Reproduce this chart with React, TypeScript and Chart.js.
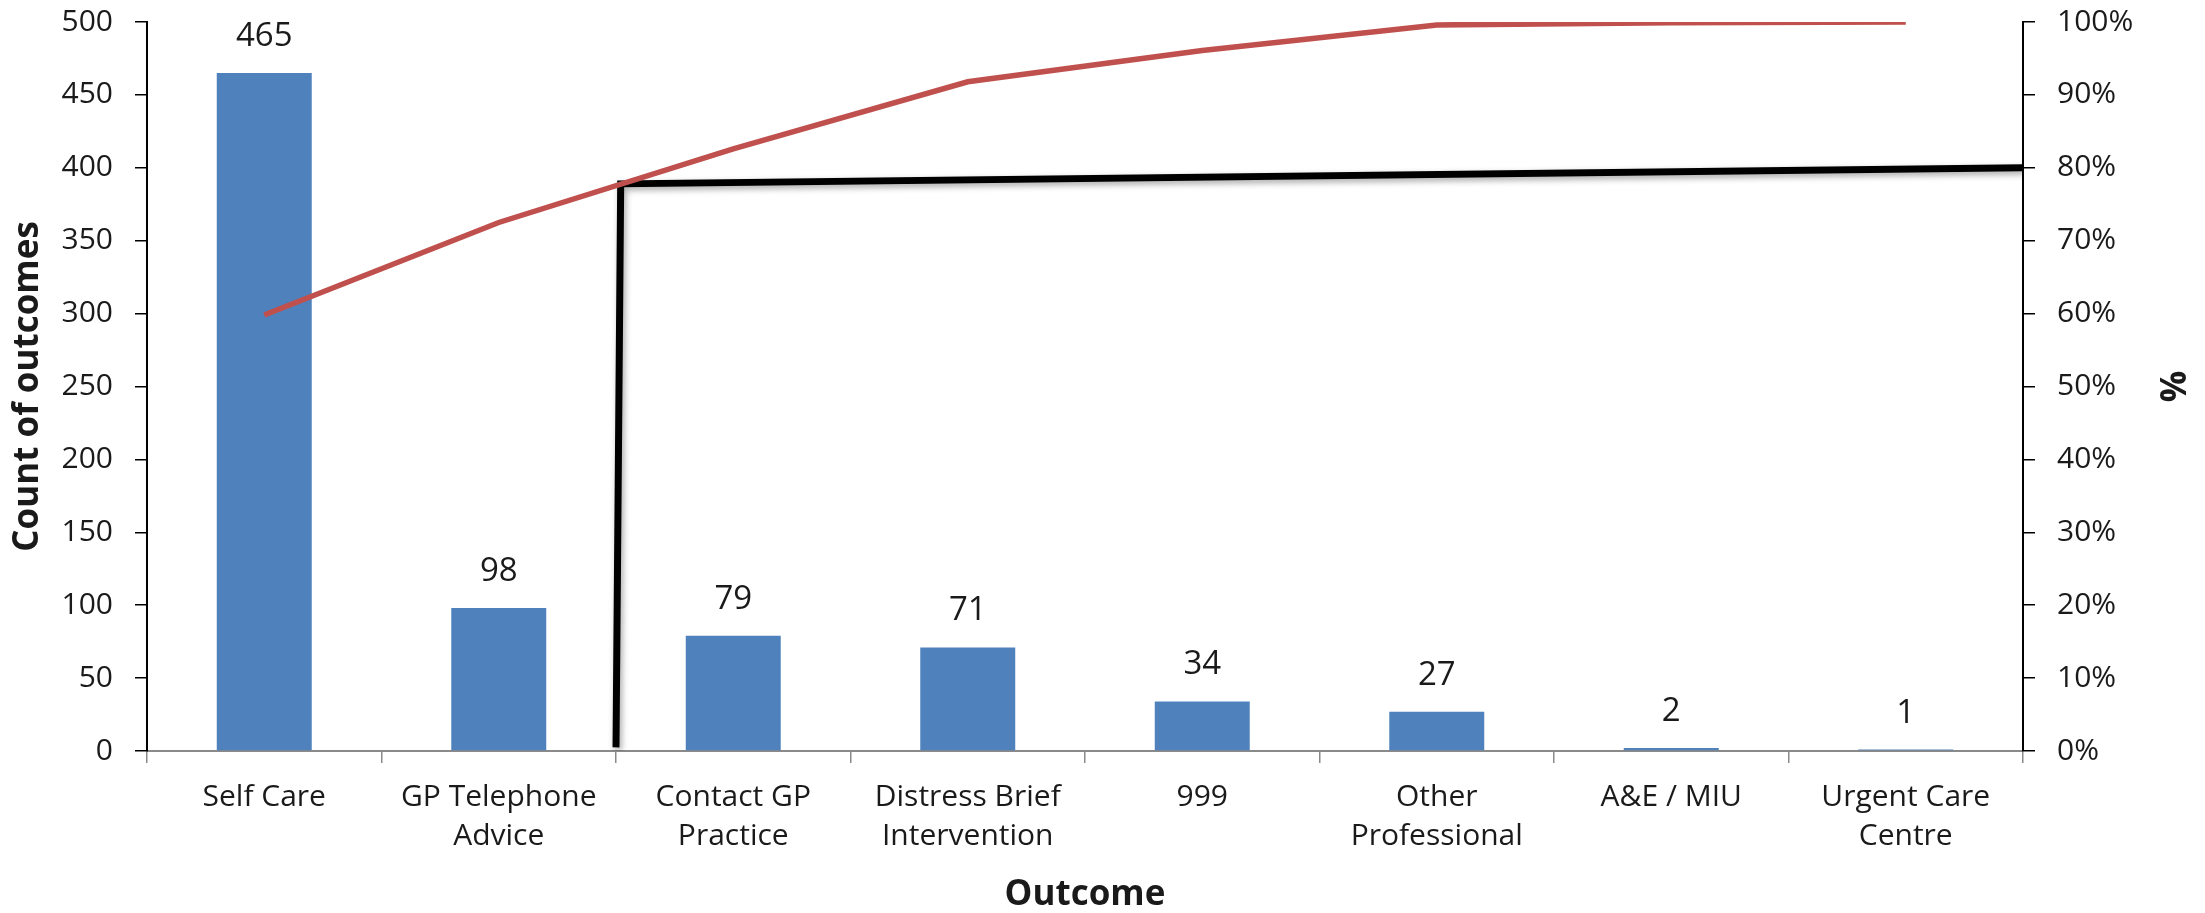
import { useEffect, useRef } from "react";
import { Chart, registerables } from "chart.js";

Chart.register(...registerables);

// Outcome categories (multi-line labels as arrays)
const outcomes: (string | string[])[] = [
  "Self Care",
  ["GP Telephone", "Advice"],
  ["Contact GP", "Practice"],
  ["Distress Brief", "Intervention"],
  "999",
  ["Other", "Professional"],
  "A&E / MIU",
  ["Urgent Care", "Centre"],
];

// Count of each outcome
const counts = [465, 98, 79, 71, 34, 27, 2, 1];

// Cumulative share of all outcomes (%)
const cumulativePct = [59.8, 72.5, 82.6, 91.8, 96.1, 99.6, 99.9, 100];

// Hand-drawn 80% cut-off marker: category position and % value of each vertex
const cutoffX = [1.5, 1.52, 7.5];
const cutoffPct = [0.5, 77.8, 80];

const FONT = "'Open Sans', 'Noto Sans', sans-serif";
const TEXT = "#1a1a1a";

// Value labels above the bars
const barValueLabels = {
  id: "barValueLabels",
  afterDatasetsDraw(chart: any) {
    const meta = chart.getDatasetMeta(0);
    const ctx = chart.ctx as CanvasRenderingContext2D;
    ctx.save();
    ctx.font = `33px ${FONT}`;
    ctx.fillStyle = TEXT;
    ctx.textAlign = "center";
    ctx.textBaseline = "alphabetic";
    meta.data.forEach((bar: any, i: number) => {
      ctx.fillText(String(counts[i]), bar.x, bar.y - 27);
    });
    ctx.restore();
  },
};

// Soft drop shadow under the cut-off marker
const cutoffShadow = {
  id: "cutoffShadow",
  beforeDatasetDraw(chart: any, args: any) {
    if (args.index !== 2) return;
    const c = chart.ctx as CanvasRenderingContext2D;
    c.save();
    c.shadowColor = "rgba(0,0,0,0.35)";
    c.shadowBlur = 6;
    c.shadowOffsetX = 2;
    c.shadowOffsetY = 3;
  },
  afterDatasetDraw(chart: any, args: any) {
    if (args.index !== 2) return;
    chart.ctx.restore();
  },
};

const fixVertical = (width: number) => (scale: any) => {
  scale.width = width;
  scale.paddingTop = 0;
  scale.paddingBottom = 0;
};

export default function App() {
  const ref = useRef<HTMLCanvasElement>(null);

  useEffect(() => {
    document.body.style.margin = "0";
    const chart = new Chart(ref.current!, {
      type: "bar",
      data: {
        labels: outcomes as any,
        datasets: [
          {
            type: "bar",
            data: counts,
            xAxisID: "x",
            yAxisID: "y",
            backgroundColor: "#4F81BD",
            barPercentage: 0.405,
            categoryPercentage: 1,
            grouped: false,
            order: 3,
          },
          {
            type: "line",
            data: cumulativePct,
            xAxisID: "x",
            yAxisID: "y1",
            borderColor: "#C0504D",
            borderWidth: 5.5,
            pointRadius: 0,
            tension: 0,
            borderCapStyle: "butt",
            order: 1,
          },
          {
            type: "line",
            data: cutoffX.map((x, i) => ({ x, y: cutoffPct[i] })),
            xAxisID: "xCut",
            yAxisID: "y1",
            borderColor: "#000000",
            borderWidth: 7,
            pointRadius: 0,
            tension: 0,
            borderJoinStyle: "miter",
            borderCapStyle: "butt",
            order: 2,
          },
        ] as any,
      },
      options: {
        responsive: false,
        animation: false,
        devicePixelRatio: 1,
        layout: { padding: { top: 22, left: 0, right: 0, bottom: 0 } },
        plugins: {
          legend: { display: false },
          tooltip: { enabled: false },
        },
        scales: {
          x: {
            type: "category",
            offset: true,
            grid: {
              display: true,
              offset: true,
              drawOnChartArea: false,
              drawTicks: true,
              tickLength: 12,
              color: "#8a8a8a",
              lineWidth: 1.5,
            },
            border: { color: "#8a8a8a", width: 2 },
            ticks: {
              font: { family: FONT, size: 30, lineHeight: 1.3 },
              color: TEXT,
              padding: 15,
              maxRotation: 0,
              autoSkip: false,
            },
            title: {
              display: true,
              text: "Outcome",
              font: { family: FONT, size: 35, weight: "bold", lineHeight: 1 },
              color: TEXT,
              padding: { top: 0, bottom: 0 },
            },
            afterFit(scale: any) {
              scale.height = 162;
            },
          },
          xCut: {
            type: "linear",
            axis: "x",
            offset: false,
            min: -0.5,
            max: 7.5,
            display: false,
          },
          y: {
            type: "linear",
            position: "left",
            min: 0,
            max: 500,
            ticks: {
              stepSize: 50,
              font: { family: FONT, size: 30 },
              color: TEXT,
              padding: 22,
            },
            grid: {
              drawOnChartArea: false,
              drawTicks: true,
              tickLength: 12,
              color: "#000000",
              lineWidth: 1.5,
            },
            border: { color: "#000000", width: 2 },
            title: {
              display: true,
              text: "Count of outcomes",
              font: { family: FONT, size: 35, weight: "bold", lineHeight: 1.2 },
              color: TEXT,
              padding: { top: 7, bottom: 0 },
            },
            afterFit: fixVertical(147),
          },
          y1: {
            type: "linear",
            position: "right",
            min: 0,
            max: 100,
            ticks: {
              stepSize: 10,
              font: { family: FONT, size: 30 },
              color: TEXT,
              padding: 22,
              callback: (v: any) => `${v}%`,
            },
            grid: {
              drawOnChartArea: false,
              drawTicks: true,
              tickLength: 12,
              color: "#000000",
              lineWidth: 1.5,
            },
            border: { color: "#000000", width: 2 },
            title: {
              display: true,
              text: "%",
              font: { family: FONT, size: 35, weight: "bold", lineHeight: 1.2 },
              color: TEXT,
              padding: { top: 14, bottom: 0 },
            },
            afterFit: fixVertical(182),
          },
        },
      } as any,
      plugins: [barValueLabels, cutoffShadow],
    });
    return () => chart.destroy();
  }, []);

  return (
    <div style={{ width: 2205, height: 913 }}>
      <canvas ref={ref} width={2205} height={913} style={{ display: "block" }} />
    </div>
  );
}
